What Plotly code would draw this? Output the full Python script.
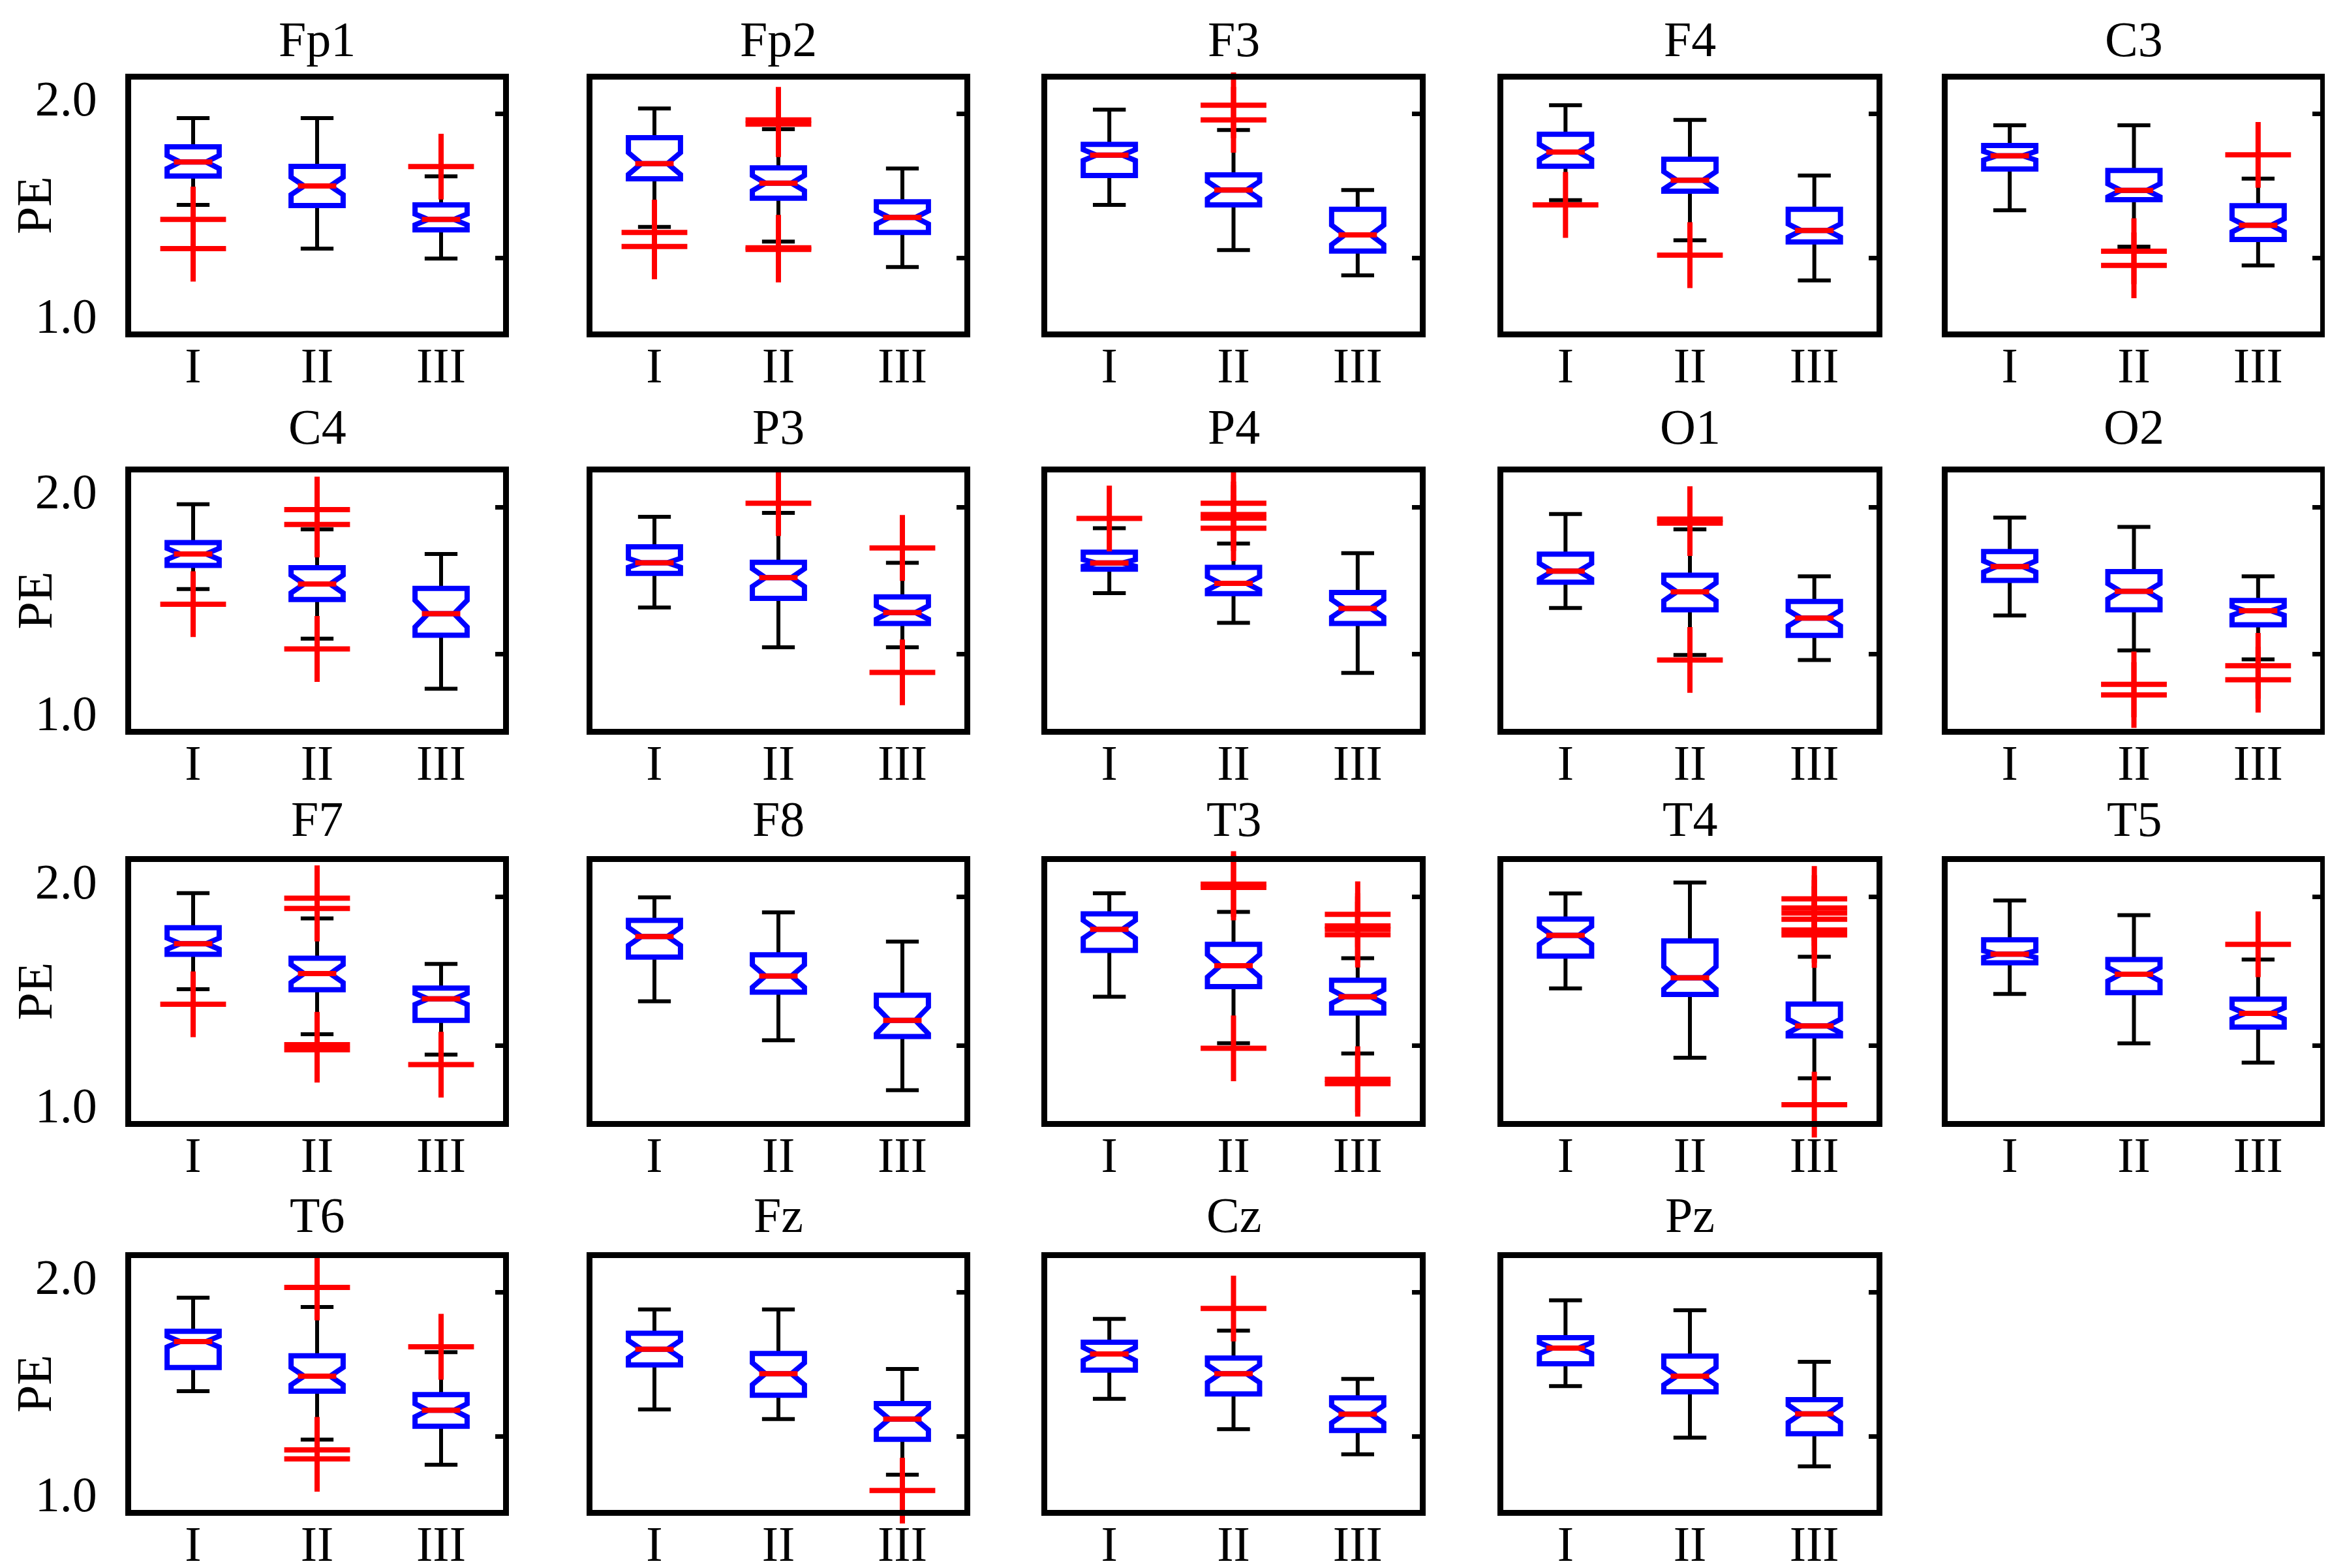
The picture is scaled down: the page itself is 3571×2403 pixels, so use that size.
import plotly.graph_objects as go

# ---------------- data ----------------
channels = ["Fp1", "Fp2", "F3", "F4", "C3",
            "C4", "P3", "P4", "O1", "O2",
            "F7", "F8", "T3", "T4", "T5",
            "T6", "Fz", "Cz", "Pz"]
groups = ["I", "II", "III"]

upper_whisker = [
    [1.908, 1.908, 1.640], [1.952, 1.857, 1.676], [1.947, 1.853, 1.577], [1.967, 1.900, 1.644], [1.875, 1.875, 1.630],
    [1.941, 1.828, 1.717], [1.885, 1.902, 1.677], [1.833, 1.764, 1.720], [1.897, 1.828, 1.616], [1.881, 1.839, 1.616],
    [1.946, 1.833, 1.629], [1.927, 1.860, 1.729], [1.945, 1.862, 1.655], [1.944, 1.993, 1.661], [1.913, 1.847, 1.649],
    [1.903, 1.860, 1.652], [1.849, 1.849, 1.575], [1.805, 1.751, 1.529], [1.891, 1.845, 1.608],
]
q3 = [
    [1.776, 1.686, 1.509], [1.818, 1.679, 1.523], [1.787, 1.647, 1.489], [1.834, 1.719, 1.489], [1.782, 1.667, 1.505],
    [1.768, 1.655, 1.561], [1.749, 1.679, 1.523], [1.725, 1.656, 1.543], [1.716, 1.621, 1.502], [1.728, 1.637, 1.507],
    [1.791, 1.655, 1.521], [1.824, 1.670, 1.489], [1.853, 1.717, 1.556], [1.830, 1.732, 1.450], [1.737, 1.649, 1.472],
    [1.748, 1.636, 1.457], [1.739, 1.646, 1.416], [1.698, 1.625, 1.442], [1.719, 1.634, 1.434],
]
median = [
    [1.706, 1.596, 1.442], [1.699, 1.609, 1.451], [1.738, 1.577, 1.371], [1.752, 1.622, 1.391], [1.735, 1.576, 1.415],
    [1.717, 1.581, 1.447], [1.677, 1.610, 1.452], [1.676, 1.584, 1.471], [1.639, 1.546, 1.427], [1.660, 1.548, 1.460],
    [1.720, 1.586, 1.473], [1.752, 1.575, 1.377], [1.784, 1.621, 1.483], [1.757, 1.567, 1.352], [1.673, 1.583, 1.408],
    [1.701, 1.542, 1.385], [1.666, 1.553, 1.345], [1.644, 1.553, 1.367], [1.671, 1.542, 1.369],
]
q1 = [
    [1.642, 1.506, 1.394], [1.629, 1.540, 1.382], [1.644, 1.509, 1.297], [1.687, 1.572, 1.339], [1.674, 1.533, 1.350],
    [1.665, 1.511, 1.350], [1.629, 1.516, 1.403], [1.648, 1.538, 1.403], [1.589, 1.465, 1.349], [1.597, 1.465, 1.397],
    [1.672, 1.514, 1.377], [1.660, 1.503, 1.305], [1.690, 1.528, 1.410], [1.664, 1.493, 1.308], [1.634, 1.501, 1.347],
    [1.582, 1.473, 1.312], [1.594, 1.454, 1.252], [1.570, 1.460, 1.292], [1.599, 1.470, 1.277],
]
lower_whisker = [
    [1.509, 1.308, 1.262], [1.408, 1.340, 1.223], [1.509, 1.301, 1.185], [1.531, 1.346, 1.162], [1.484, 1.317, 1.231],
    [1.558, 1.334, 1.108], [1.475, 1.295, 1.295], [1.540, 1.406, 1.180], [1.473, 1.261, 1.238], [1.439, 1.281, 1.241],
    [1.516, 1.315, 1.224], [1.462, 1.288, 1.065], [1.483, 1.275, 1.229], [1.520, 1.210, 1.118], [1.495, 1.274, 1.188],
    [1.473, 1.250, 1.135], [1.389, 1.345, 1.089], [1.438, 1.298, 1.183], [1.496, 1.259, 1.127],
]
notch_span = [
    [0.030, 0.040, 0.025], [0.050, 0.035, 0.030], [0.025, 0.040, 0.045], [0.035, 0.040, 0.030], [0.020, 0.030, 0.030],
    [0.025, 0.040, 0.060], [0.020, 0.040, 0.030], [0.015, 0.030, 0.040], [0.035, 0.040, 0.035], [0.025, 0.035, 0.020],
    [0.025, 0.040, 0.025], [0.040, 0.050, 0.060], [0.040, 0.050, 0.030], [0.040, 0.050, 0.030], [0.015, 0.030, 0.025],
    [0.025, 0.040, 0.030], [0.040, 0.050, 0.050], [0.030, 0.040, 0.040], [0.025, 0.040, 0.040],
]
outliers = [
    [[1.442, 1.308], [], [1.685]],
    [[1.382, 1.318], [1.900, 1.880, 1.312, 1.304], []],
    [[], [1.967, 1.900], []],
    [[1.509], [1.278], []],
    [[], [1.296, 1.231], [1.739]],
    [[1.490], [1.917, 1.850, 1.288], []],
    [[], [1.946], [1.744, 1.182]],
    [[1.877], [1.946, 1.895, 1.879, 1.833], []],
    [[], [1.874, 1.856, 1.238], []],
    [[], [1.128, 1.080], [1.212, 1.149]],
    [[1.449], [1.923, 1.877, 1.268, 1.246], [1.179]],
    [[], [], []],
    [[], [1.986, 1.971, 1.252], [1.851, 1.799, 1.784, 1.760, 1.114, 1.094]],
    [[], [], [1.920, 1.879, 1.857, 1.829, 1.781, 1.759, 1.000]],
    [[], [], [1.717]],
    [[], [1.950, 1.203, 1.162], [1.677]],
    [[], [], [1.016]],
    [[], [1.853], []],
    [[], [], []],
]
y_tick_values = [1.0, 2.0]
y_tick_labels = ["1.0", "2.0"]
right_tick_values = [1.265, 1.928]
y_label = "PE"

# ---------------- layout geometry (pixels) ----------------
W, H = 3571, 2403
col_px = [(193, 763), (900, 1470), (1597, 2168), (2296, 2868), (2977, 3548)]
row_px = [(114, 500), (716, 1109), (1313, 1710), (1920, 2306)]
title_gap = [18, 26, 22, 22]
Y_RANGE = [0.927, 2.085]
FONT = "Liberation Serif"
FS = 76
BOX_W = 0.42
MED_HALF = 0.155
N = len(channels)

fig = go.Figure()
layout = dict(
    width=W, height=H, margin=dict(l=0, r=0, t=0, b=0, autoexpand=False),
    paper_bgcolor="white", plot_bgcolor="white",
    boxmode="overlay", showlegend=False,
    font=dict(family=FONT, size=FS, color="black"),
)
annotations = []
pos = [1, 2, 3]

for k, ch in enumerate(channels):
    r, c = divmod(k, 5)
    sfx = "" if k == 0 else str(k + 1)
    xa, ya = "x" + sfx, "y" + sfx
    yr = "y" + str(N + k + 1)
    x0, x1 = col_px[c]
    t0, t1 = row_px[r]

    # whiskers (black)
    fig.add_trace(go.Box(
        x=pos, q1=q1[k], median=median[k], q3=q3[k],
        lowerfence=lower_whisker[k], upperfence=upper_whisker[k],
        notchspan=notch_span[k], notched=True, notchwidth=0.25,
        width=BOX_W, whiskerwidth=0.63, boxpoints=False,
        line=dict(color="black", width=6), fillcolor="rgba(0,0,0,0)",
        xaxis=xa, yaxis=ya, hoverinfo="skip"))
    # box (blue)
    fig.add_trace(go.Box(
        x=pos, q1=q1[k], median=median[k], q3=q3[k],
        lowerfence=q1[k], upperfence=q3[k],
        notchspan=notch_span[k], notched=True, notchwidth=0.25,
        width=BOX_W, whiskerwidth=0, boxpoints=False,
        line=dict(color="#0000ff", width=8), fillcolor="rgba(0,0,0,0)",
        xaxis=xa, yaxis=ya, hoverinfo="skip"))
    # median (red)
    mx, my = [], []
    for p, m in zip(pos, median[k]):
        mx += [p - MED_HALF, p + MED_HALF, None]
        my += [m, m, None]
    fig.add_trace(go.Scatter(x=mx, y=my, mode="lines",
                             line=dict(color="#ff0000", width=8),
                             xaxis=xa, yaxis=ya, hoverinfo="skip"))
    # outliers (red +)
    ox, oy = [], []
    for p, vals in zip(pos, outliers[k]):
        for v in vals:
            ox.append(p)
            oy.append(v)
    if ox:
        fig.add_trace(go.Scatter(
            x=ox, y=oy, mode="markers", cliponaxis=False,
            marker=dict(symbol="cross-thin", size=72, color="#ff0000",
                        line=dict(color="#ff0000", width=8)),
            xaxis=xa, yaxis=ya, hoverinfo="skip"))
    # empty trace so the right-hand tick axis is drawn
    fig.add_trace(go.Scatter(x=[None], y=[None], mode="markers",
                             xaxis=xa, yaxis=yr, hoverinfo="skip"))

    layout["xaxis" + sfx] = dict(
        domain=[x0 / W, x1 / W], anchor=ya, range=[0.5, 3.5],
        tickmode="array", tickvals=pos, ticktext=groups,
        showline=True, mirror=True, linewidth=9, linecolor="black",
        showgrid=False, zeroline=False, ticks="", ticklabelstandoff=-22,
        automargin=False,
        tickfont=dict(family=FONT, size=FS, color="black"), fixedrange=True)
    layout["yaxis" + sfx] = dict(
        domain=[1 - t1 / H, 1 - t0 / H], anchor=xa, range=Y_RANGE,
        tickmode="array", tickvals=y_tick_values, ticktext=y_tick_labels,
        showticklabels=(c == 0), automargin=False,
        showline=True, mirror=True, linewidth=9, linecolor="black",
        showgrid=False, zeroline=False, ticks="", ticklabelstandoff=28,
        tickfont=dict(family=FONT, size=FS, color="black"), fixedrange=True)
    # small inward ticks on the right-hand frame edge
    layout["yaxis" + str(N + k + 1)] = dict(
        overlaying=ya, anchor=xa, side="right", range=Y_RANGE,
        tickmode="array", tickvals=right_tick_values, showticklabels=False,
        ticks="inside", ticklen=12, tickwidth=7, tickcolor="black",
        showline=False, showgrid=False, zeroline=False, automargin=False,
        fixedrange=True)

    annotations.append(dict(
        text=ch, xref="paper", yref="paper",
        x=(x0 + x1) / 2 / W, y=1 - (t0 - title_gap[r]) / H,
        xanchor="center", yanchor="bottom", showarrow=False,
        font=dict(family=FONT, size=FS, color="black")))
    if c == 0:
        annotations.append(dict(
            text=y_label, xref="paper", yref="paper",
            x=44 / W, y=1 - (t0 + t1) / 2 / H,
            xanchor="center", yanchor="middle", textangle=-90, showarrow=False,
            font=dict(family=FONT, size=FS, color="black")))

layout["annotations"] = annotations
fig.update_layout(**layout)
fig.write_html("out.html")
